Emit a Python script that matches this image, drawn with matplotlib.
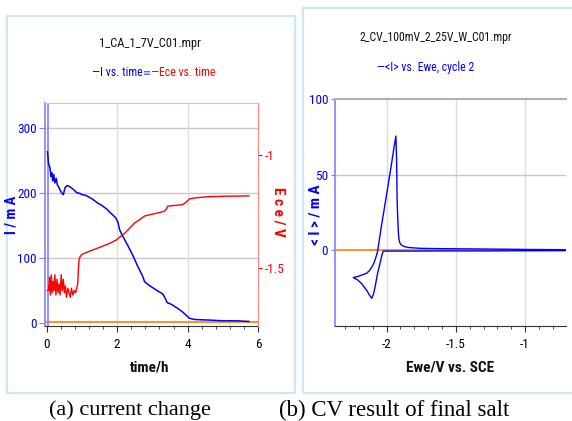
import matplotlib
matplotlib.use('Agg')
import matplotlib.pyplot as plt
from matplotlib import font_manager as fm
from matplotlib.patches import Rectangle
from matplotlib.ticker import MultipleLocator

plt.rcParams['axes.unicode_minus'] = False
names = {f.name for f in fm.fontManager.ttflist}
SERIF = 'Liberation Serif' if 'Liberation Serif' in names else 'DejaVu Serif'


def _weight(w):
    if isinstance(w, (int, float)):
        return int(w)
    return fm.weight_dict.get(str(w).lower(), 400)


def _find_condensed(bold):
    prefs = ['Liberation Sans Narrow', 'Arial Narrow', 'Roboto Condensed',
             'Open Sans Condensed', 'DejaVu Sans', 'Noto Sans', 'Roboto',
             'Open Sans', 'Liberation Sans', 'Lato', 'Inter']
    found = []
    for f in fm.fontManager.ttflist:
        nm = f.name
        if 'Mono' in nm or 'Serif' in nm or 'CJK' in nm:
            continue
        st = f.stretch
        cond = ('condensed' in st) if isinstance(st, str) else (st <= 400)
        if 'Narrow' in nm or 'Condensed' in nm or 'Condensed' in f.fname:
            cond = True
        if not cond or f.style != 'normal':
            continue
        w = _weight(f.weight)
        if bold and w < 600:
            continue
        if not bold and (w < 350 or w > 500):
            continue
        rank = prefs.index(nm) if nm in prefs else len(prefs)
        found.append((rank, f.fname))
    if found:
        found.sort()
        return found[0][1]
    return None


COND_REG = _find_condensed(False)
COND_BOLD = _find_condensed(True) or COND_REG
SCALE = 1.0 if COND_REG else 0.85


def fp(size, bold=False):
    path = COND_BOLD if bold else COND_REG
    if path:
        return fm.FontProperties(fname=path, size=size)
    return fm.FontProperties(family='DejaVu Sans', size=size * SCALE,
                             weight='bold' if bold else 'normal')


# ---------------- data: (a) chronoamperometry ----------------
ca_title = "1_CA_1_7V_C01.mpr"
ca_legend = ["\u2014I vs. time", "\u2261", "\u2014Ece vs. time"]
ca_time_I = [0.02, 0.05, 0.09, 0.12, 0.14, 0.17, 0.20, 0.23, 0.27, 0.30, 0.33, 0.38,
             0.42, 0.47, 0.52, 0.58, 0.63, 0.71, 0.78, 0.85, 0.94, 1.00, 1.10, 1.18,
             1.30, 1.45, 1.55, 1.70, 1.83, 1.95, 2.02, 2.07, 2.15, 2.30, 2.45, 2.59,
             2.72, 2.78, 2.95, 3.15, 3.30, 3.36, 3.42, 3.55, 3.72, 3.85, 3.95, 4.05,
             4.20, 4.66, 5.00, 5.40, 5.74]
ca_I = [263, 245, 238, 225, 231, 218, 228, 215, 222, 212, 210, 204,
        200, 197, 208, 211, 210, 207, 204, 200, 199, 197, 196, 194,
        190, 184, 181, 175, 168, 162, 155, 143, 134, 119, 103, 86,
        72, 63, 56, 49, 44, 38, 31, 28, 22, 17, 12, 7,
        5, 4, 3, 3, 2]
ca_time_E = [0.02, 0.05, 0.08, 0.10, 0.13, 0.15, 0.18, 0.20, 0.23, 0.26, 0.29, 0.32,
             0.35, 0.38, 0.41, 0.44, 0.47, 0.50, 0.53, 0.56, 0.60, 0.63, 0.67, 0.70,
             0.74, 0.78, 0.82, 0.85, 0.88, 0.90, 0.92, 0.95, 1.00, 1.18, 1.40, 1.55,
             1.80, 1.98, 2.10, 2.21, 2.35, 2.49, 2.65, 2.78, 3.00, 3.20, 3.34, 3.40,
             3.43, 3.60, 3.86, 3.95, 4.05, 4.20, 4.56, 5.00, 5.40, 5.74]
ca_E = [-1.60, -1.60, -1.54, -1.62, -1.53, -1.61, -1.56, -1.60, -1.53, -1.62, -1.55,
        -1.61, -1.57, -1.62, -1.53, -1.60, -1.55, -1.61, -1.58, -1.63, -1.59, -1.61,
        -1.63, -1.59, -1.62, -1.60, -1.61, -1.59, -1.57, -1.50, -1.46, -1.45,
        -1.44, -1.428, -1.415, -1.406, -1.39, -1.376, -1.36, -1.347, -1.325, -1.302,
        -1.285, -1.27, -1.262, -1.255, -1.249, -1.24, -1.227, -1.224, -1.22, -1.21,
        -1.195, -1.19, -1.185, -1.183, -1.182, -1.181]
ca_xticks = [0, 2, 4, 6]
ca_Iticks = [0, 100, 200, 300]
ca_Eticks = [-1.5, -1.0]
ca_Eticklabels = ["-1.5", "-1"]

# ---------------- data: (b) cyclic voltammetry ----------------
cv_title = "2_CV_100mV_2_25V_W_C01.mpr"
cv_legend = "\u2014<I> vs. Ewe, cycle 2"
cv_E = [-0.705, -1.0, -1.3, -1.6, -1.8, -1.95, -2.0, -2.025, -2.035, -2.048, -2.065,
        -2.083, -2.095, -2.108, -2.125, -2.14, -2.16, -2.18, -2.21, -2.241,
        -2.225, -2.205, -2.175, -2.145, -2.125, -2.108, -2.095, -2.084, -2.072,
        -2.065, -2.036, -2.0, -1.965, -1.945, -1.933, -1.928, -1.924, -1.921,
        -1.916, -1.912, -1.905, -1.893, -1.87, -1.835, -1.752, -1.6, -1.326,
        -1.0, -0.705]
cv_I = [-0.2, -0.3, -0.4, -0.4, -0.5, -0.5, -0.5, -0.6, -3.5, -8.6, -15, -24, -29,
        -31.7, -29.5, -27, -24.5, -22, -19.5, -18, -17.6, -17.2, -16.2, -15.2,
        -13.5, -11.2, -9, -6.4, -3.0, -0.4, 17, 37, 57, 69, 75.5, 60, 33, 24,
        13.4, 7.9, 5, 3.5, 2.4, 1.8, 1.3, 1.1, 0.9, 0.6, 0.4]
cv_xticks = [-2.0, -1.5, -1.0]
cv_xticklabels = ["-2", "-1.5", "-1"]
cv_yticks = [0, 50, 100]

captions = ["(a) current change", "(b) CV result of final salt"]

# ---------------- layout helpers ----------------
W, H = 572, 421
fig = plt.figure(figsize=(W / 100, H / 100), dpi=100)


def fx(x):
    return x / W


def fy(y):
    return 1 - y / H


def axes_px(x0, y0, x1, y1):
    return fig.add_axes([fx(x0), fy(y1), fx(x1) - fx(x0), fy(y0) - fy(y1)])


BORDER = '#cfe5fa'
fig.patches.append(Rectangle((fx(7), fy(393)), fx(295) - fx(7), fy(16) - fy(393),
                             transform=fig.transFigure, fill=False,
                             edgecolor=BORDER, lw=1.5))
fig.patches.append(Rectangle((fx(302.5), fy(393)), fx(590) - fx(302.5), fy(8) - fy(393),
                             transform=fig.transFigure, fill=False,
                             edgecolor=BORDER, lw=1.5, clip_on=False))

BLUE = '#0000ff'
LBLUE = '#8080ff'
RED = '#ff0000'
GRID = '#c8c8c8'
ORANGE = '#ff8000'
TICKFS = 9.5

# ---------------- panel (a) ----------------
ax = axes_px(45, 103, 258, 326)
ax.set_xlim(-0.05, 6)
ax.set_ylim(-5, 338)
for y in ca_Iticks[1:]:
    ax.axhline(y, color=GRID, lw=1, zorder=0)
for x in ca_xticks[1:-1]:
    ax.axvline(x, color='#dddddd', lw=1, zorder=0)
ax.axhline(1, color=ORANGE, lw=1.2, zorder=1)
ax.axvline(0.03, color=LBLUE, lw=1.2, zorder=1)
ax.plot(ca_time_I, ca_I, color=BLUE, lw=1.1, zorder=4)
ax.set_xticks(ca_xticks)
ax.set_xticklabels([str(v) for v in ca_xticks], fontproperties=fp(TICKFS))
ax.xaxis.set_minor_locator(MultipleLocator(0.4))
ax.set_yticks(ca_Iticks)
ax.set_yticklabels([str(v) for v in ca_Iticks], fontproperties=fp(TICKFS), color=BLUE)
ax.tick_params(axis='x', length=4, width=0.8, color='#333333', pad=5)
ax.tick_params(axis='x', which='minor', length=2, width=0.6, color='#333333')
ax.tick_params(axis='y', length=4, width=0.8, color=LBLUE, pad=2)
ax.spines['left'].set_color(LBLUE)
ax.spines['left'].set_linewidth(1.2)
ax.spines['top'].set_color(GRID)
ax.spines['right'].set_visible(False)
ax.spines['bottom'].set_color('#333333')

ax2 = ax.twinx()
ax2.set_ylim(-1.757, -0.77)
ax2.plot(ca_time_E, ca_E, color=RED, lw=1.0, zorder=3)
ax2.set_yticks(ca_Eticks)
ax2.set_yticklabels(ca_Eticklabels, fontproperties=fp(TICKFS), color=RED)
ax2.tick_params(axis='y', length=3, width=0.8, color=RED, pad=2)
ax2.spines['right'].set_color('#ff8080')
ax2.spines['left'].set_visible(False)
ax2.spines['top'].set_visible(False)
ax2.spines['bottom'].set_visible(False)

fig.text(fx(150), fy(43), ca_title, ha='center', va='center',
         fontproperties=fp(9), color='#111111')
fig.text(fx(143), fy(73), ca_legend[0], ha='right', va='center',
         fontproperties=fp(8.5), color=BLUE)
fig.text(fx(147), fy(73), ca_legend[1], ha='center', va='center',
         family=['DejaVu Sans'], fontsize=7, color='#4040ff')
fig.text(fx(151), fy(73), ca_legend[2], ha='left', va='center',
         fontproperties=fp(8.5), color=RED)
fig.text(fx(11), fy(215), "I / m A", ha='center', va='center', rotation=90,
         fontproperties=fp(10.5, True), color=BLUE)
fig.text(fx(279), fy(212), "E c e / V", ha='center', va='center', rotation=270,
         fontproperties=fp(11, True), color=RED)
fig.text(fx(150), fy(368), "time/h", ha='center', va='center',
         fontproperties=fp(11, True), color='#111111')

# ---------------- panel (b) ----------------
bx = axes_px(335, 99, 566, 326)
bx.set_xlim(-2.373, -0.704)
bx.set_ylim(-50, 100)
for x in cv_xticks:
    bx.axvline(x, color='#dddddd', lw=1, zorder=0)
bx.axhline(50, color=GRID, lw=1, zorder=0)
bx.axhline(0, color=ORANGE, lw=1.2, zorder=1)
bx.plot(cv_E, cv_I, color=BLUE, lw=1.0, zorder=3)
bx.set_xticks(cv_xticks)
bx.set_xticklabels(cv_xticklabels, fontproperties=fp(TICKFS))
bx.xaxis.set_minor_locator(MultipleLocator(0.1))
bx.set_yticks(cv_yticks)
bx.set_yticklabels([str(v) for v in cv_yticks], fontproperties=fp(TICKFS), color=BLUE)
bx.tick_params(axis='x', length=4, width=0.8, color='#333333', pad=5)
bx.tick_params(axis='x', which='minor', length=2, width=0.6, color='#333333')
bx.tick_params(axis='y', length=3, width=0.8, color=LBLUE, pad=2)
bx.spines['left'].set_color(LBLUE)
bx.spines['left'].set_linewidth(1.2)
bx.spines['top'].set_color('#b0b0b0')
bx.spines['top'].set_linewidth(1.5)
bx.spines['right'].set_visible(False)
bx.spines['bottom'].set_color('#333333')

fig.text(fx(436), fy(38), cv_title, ha='center', va='center',
         fontproperties=fp(8.5), color='#111111')
fig.text(fx(377), fy(68), cv_legend, ha='left', va='center',
         fontproperties=fp(8.5), color=BLUE)
fig.text(fx(316), fy(215), "< I > / m A", ha='center', va='center', rotation=90,
         fontproperties=fp(11, True), color=BLUE)
fig.text(fx(450), fy(368), "Ewe/V vs. SCE", ha='center', va='center',
         fontproperties=fp(11, True), color='#111111')

# ---------------- captions ----------------
fig.text(fx(130), fy(410), captions[0], ha='center', va='center', fontsize=16,
         family=SERIF, color='black')
fig.text(fx(394), fy(410), captions[1], ha='center', va='center', fontsize=16.5,
         family=SERIF, color='black')

fig.savefig('out.png', dpi=100)
